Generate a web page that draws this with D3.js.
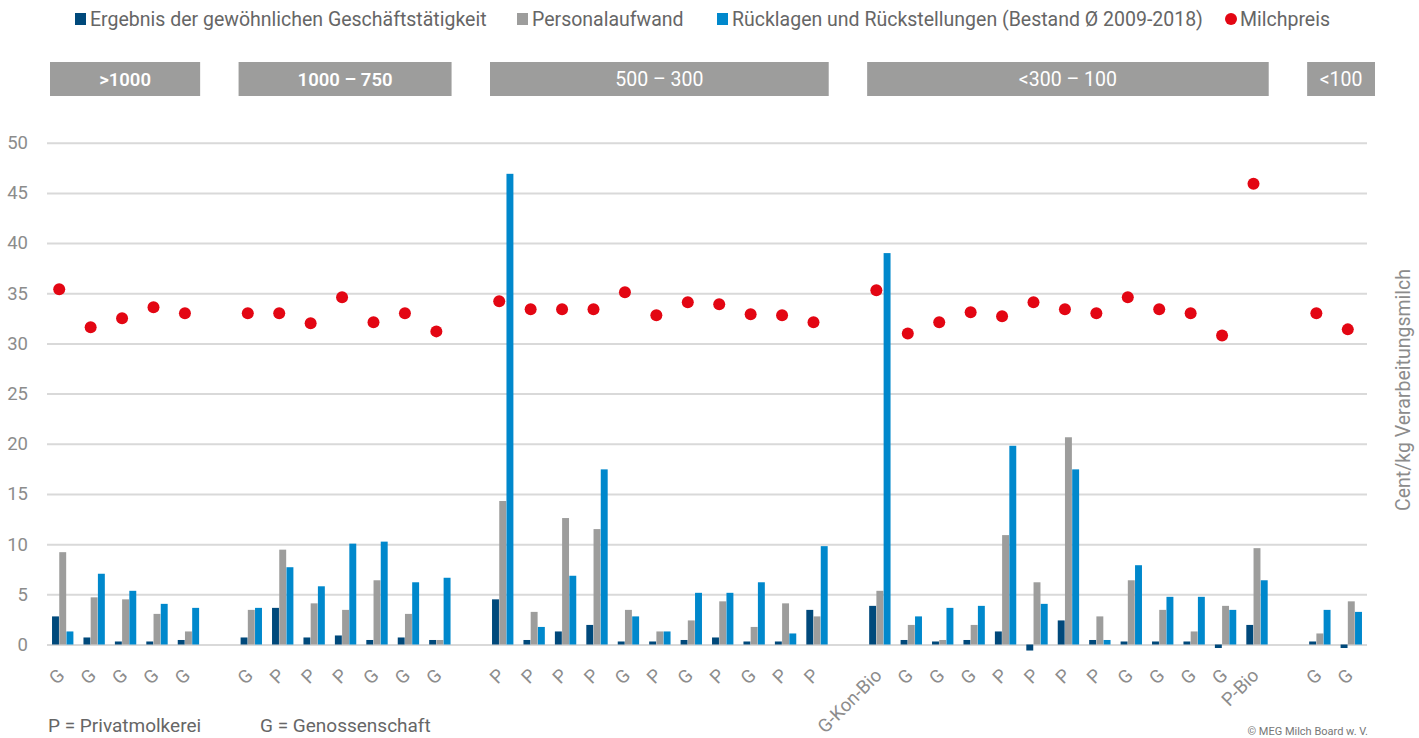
<html>
<head>
<meta charset="utf-8">
<title>Molkereien - Ergebnis, Personalaufwand, Rücklagen, Milchpreis</title>
<script src="https://cdn.jsdelivr.net/npm/d3@7"></script>
<style>
    body { margin: 0; background: #fff; font-family: Roboto, sans-serif; }
    .grid line { stroke: #d9d9d9; stroke-width: 2; }
    .grid text { fill: #8c8c8c; font-size: 18.5px; }
    .xlab text { fill: #8c8c8c; font-size: 18.5px; }
</style>
</head>
<body>
<div class="mainView"></div>
<script>
// Größenklassen (Mio. kg) und Molkereien je Klasse
let groupNames = [">1000", "1000 – 750", "500 – 300", "<300 – 100", "<100"];
let groupLabels = [
    ["G", "G", "G", "G", "G"],
    ["G", "P", "P", "P", "G", "G", "G"],
    ["P", "P", "P", "P", "G", "P", "G", "P", "G", "P", "P"],
    ["G-Kon-Bio", "G", "G", "G", "P", "P", "P", "P", "G", "G", "G", "G", "P-Bio"],
    ["G", "G"]
];
let seriesNames = ["Ergebnis der gewöhnlichen Geschäftstätigkeit", "Personalaufwand",
    "Rücklagen und Rückstellungen (Bestand Ø 2009-2018)", "Milchpreis"];

// Cent/kg
let ergebnis = [2.8, 0.7, 0.3, 0.3, 0.45,
    0.7, 3.65, 0.7, 0.9, 0.45, 0.7, 0.45,
    4.5, 0.45, 1.3, 1.95, 0.3, 0.3, 0.45, 0.7, 0.3, 0.3, 3.45,
    3.85, 0.45, 0.3, 0.45, 1.3, -0.6, 2.4, 0.45, 0.3, 0.3, 0.3, -0.35, 1.95,
    0.3, -0.35];
let personal = [9.2, 4.7, 4.5, 3.05, 1.3,
    3.45, 9.45, 4.1, 3.45, 6.4, 3.05, 0.45,
    14.3, 3.25, 12.6, 11.5, 3.45, 1.3, 2.4, 4.3, 1.75, 4.1, 2.8,
    5.35, 1.95, 0.45, 1.95, 10.9, 6.2, 20.65, 2.8, 6.4, 3.45, 1.3, 3.85, 9.6,
    1.1, 4.3];
let ruecklagen = [1.3, 7.05, 5.35, 4.05, 3.65,
    3.65, 7.7, 5.8, 10.05, 10.25, 6.2, 6.65,
    46.9, 1.75, 6.85, 17.45, 2.8, 1.3, 5.15, 5.15, 6.2, 1.1, 9.8,
    39.0, 2.8, 3.65, 3.85, 19.8, 4.05, 17.45, 0.45, 7.9, 4.75, 4.75, 3.45, 6.4,
    3.45, 3.25];
let milchpreis = [35.4, 31.6, 32.5, 33.6, 33.0,
    33.0, 33.0, 32.0, 34.6, 32.1, 33.0, 31.2,
    34.2, 33.4, 33.4, 33.4, 35.1, 32.8, 34.1, 33.9, 32.9, 32.8, 32.1,
    35.3, 31.0, 32.1, 33.1, 32.7, 34.1, 33.4, 33.0, 34.6, 33.4, 33.0, 30.8, 45.9,
    33.0, 31.4];
let yTicks = [0, 5, 10, 15, 20, 25, 30, 35, 40, 45, 50];

let colors = ["#00497b", "#9d9d9c", "#0088cc", "#e30613"];

function buildData() {
    // one slot per Molkerei, plus an empty slot between groups
    let slots = [];
    let rows = [];
    let i = 0;
    groupLabels.forEach((labels, g) => {
        labels.forEach((lab, j) => {
            let key = g + "-" + j;
            slots.push({ key: key, label: lab });
            rows.push({ key: key, group: g, values: [ergebnis[i], personal[i], ruecklagen[i]], price: milchpreis[i] });
            i++;
        });
        if (g < groupLabels.length - 1) slots.push({ key: "gap" + g, label: "" });
    });
    return { slots, rows };
}

function getChartConfig() {
    let width = 1419;
    let height = 738;
    let svg = d3.select(".mainView").append("svg")
        .attr("width", width)
        .attr("height", height);
    return { width, height, svg, left: 47, right: 1367, top: 142.7, zero: 644.5 };
}

function getChartScales(chartData, config) {
    let xScale = d3.scaleBand()
        .domain(chartData.slots.map(d => d.key))
        .range([config.left, config.right]);
    let bw = xScale.bandwidth();
    let x1 = d3.scaleBand()
        .domain([0, 1, 2])
        .range([bw * 0.16, bw * 0.84])
        .paddingInner(0.04);
    let yScale = d3.scaleLinear()
        .domain([0, 50])
        .range([config.zero, config.top]);
    return { xScale, x1, yScale };
}

function drawAxes(chartData, scales, config) {
    let { xScale, yScale } = scales;
    let svg = config.svg;

    svg.append("g")
        .attr("class", "grid")
        .attr("transform", "translate(" + config.left + ",0)")
        .call(d3.axisLeft(yScale).tickValues(yTicks).tickSize(-(config.right - config.left)).tickPadding(19))
        .call(g => g.select(".domain").remove())
        .selectAll("text").attr("font-family", "Roboto");

    let labelMap = {};
    chartData.slots.forEach(s => labelMap[s.key] = s.label);
    svg.append("g")
        .attr("class", "xlab")
        .attr("transform", "translate(0," + config.zero + ")")
        .call(d3.axisBottom(xScale).tickSize(0).tickFormat(k => labelMap[k]))
        .call(g => g.select(".domain").remove())
        .selectAll("text")
            .attr("font-family", "Roboto")
            .style("text-anchor", "end")
            .attr("y", 0)
            .attr("dy", 0)
            .attr("transform", "translate(3,32) rotate(-45)");
}

function drawBars(chartData, scales, config) {
    let { xScale, x1, yScale } = scales;
    let cat = config.svg.append("g").selectAll("g")
        .data(chartData.rows)
        .enter().append("g")
        .attr("transform", d => "translate(" + xScale(d.key) + ",0)");
    cat.selectAll("rect")
        .data(d => d.values.map((v, k) => ({ k: k, v: v })))
        .enter().append("rect")
        .attr("x", d => x1(d.k))
        .attr("width", x1.bandwidth())
        .attr("y", d => yScale(Math.max(0, d.v)))
        .attr("height", d => Math.abs(yScale(d.v) - yScale(0)))
        .attr("fill", d => colors[d.k]);

    config.svg.append("g").selectAll("circle")
        .data(chartData.rows)
        .enter().append("circle")
        .attr("cx", d => xScale(d.key) + xScale.bandwidth() / 2 - 3.5)
        .attr("cy", d => yScale(d.price))
        .attr("r", 6)
        .attr("fill", colors[3]);
}

function drawGroups(chartData, scales, config) {
    let { xScale } = scales;
    let bw = xScale.bandwidth();
    groupNames.forEach((name, g) => {
        let n = groupLabels[g].length;
        let x0 = xScale(g + "-0") + 3;
        let x1 = xScale(g + "-" + (n - 1)) + bw - 4;
        if (g == groupNames.length - 1) x1 += 12;
        config.svg.append("rect")
            .attr("x", x0).attr("y", 62)
            .attr("width", x1 - x0).attr("height", 34)
            .attr("fill", "#9d9d9c");
        config.svg.append("text")
            .attr("x", (x0 + x1) / 2).attr("y", 86)
            .attr("text-anchor", "middle")
            .attr("fill", "#fff")
            .attr("font-size", g < 2 ? 18.5 : 19.5)
            .attr("font-weight", g < 2 ? 600 : 400)
            .text(name);
    });
}

function drawLegend(config) {
    let svg = config.svg;
    let xs = [75, 517, 717, 1225];
    seriesNames.forEach((name, k) => {
        if (k < 3) {
            svg.append("rect").attr("x", xs[k]).attr("y", 13).attr("width", 11).attr("height", 12).attr("fill", colors[k]);
        } else {
            svg.append("circle").attr("cx", xs[k] + 6).attr("cy", 19).attr("r", 6).attr("fill", colors[k]);
        }
        svg.append("text")
            .attr("x", xs[k] + 15).attr("y", 26)
            .attr("fill", "#666")
            .attr("font-size", 19.5)
            .text(name);
    });

    svg.append("text")
        .attr("transform", "translate(1410,390) rotate(-90)")
        .attr("text-anchor", "middle")
        .attr("fill", "#8c8c8c")
        .attr("font-size", 19.5)
        .text("Cent/kg Verarbeitungsmilch");

    svg.append("text").attr("x", 48).attr("y", 732).attr("fill", "#666").attr("font-size", 19).text("P = Privatmolkerei");
    svg.append("text").attr("x", 260).attr("y", 732).attr("fill", "#666").attr("font-size", 19).text("G = Genossenschaft");
    svg.append("text").attr("x", 1368).attr("y", 735).attr("text-anchor", "end")
        .attr("fill", "#777").attr("font-size", 11).text("© MEG Milch Board w. V.");
}

function showData() {
    let data = buildData();
    let config = getChartConfig();
    let scales = getChartScales(data, config);
    drawAxes(data, scales, config);
    drawBars(data, scales, config);
    drawGroups(data, scales, config);
    drawLegend(config);
}
showData();
</script>
</body>
</html>
